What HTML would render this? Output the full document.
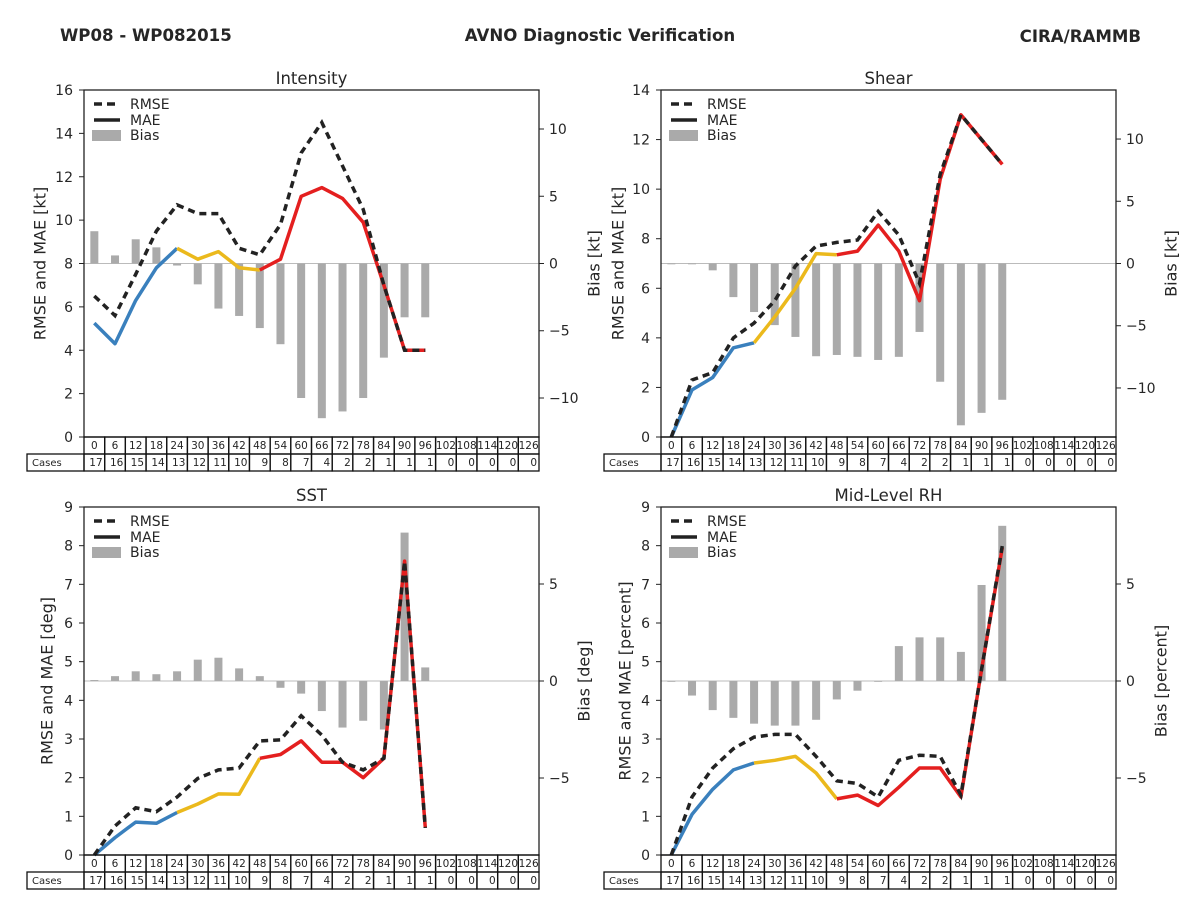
<!DOCTYPE html>
<html><head><meta charset="utf-8"><style>
html,body{margin:0;padding:0;background:#fff;}
svg{display:block;font-family:"DejaVu Sans","Liberation Sans",sans-serif;}
</style></head><body>
<svg id="fig" width="1200" height="900" viewBox="0 0 1200 900">
<text x="60" y="41" font-size="16.6" font-weight="bold" fill="#262626">WP08 - WP082015</text>
<text x="600" y="41" font-size="16.6" font-weight="bold" fill="#262626" text-anchor="middle">AVNO Diagnostic Verification</text>
<text x="1141" y="42" font-size="16.6" font-weight="bold" fill="#262626" text-anchor="end">CIRA/RAMMB</text>
</svg>
<script>
const hours = [0,6,12,18,24,30,36,42,48,54,60,66,72,78,84,90,96,102,108,114,120,126];
const cases = [17,16,15,14,13,12,11,10,9,8,7,4,2,2,1,1,1,0,0,0,0,0];

const intensityRmse = [6.5,5.6,7.5,9.5,10.7,10.3,10.3,8.7,8.4,9.8,13.1,14.5,12.5,10.5,7.0,4.0,4.0];
const intensityMae  = [5.25,4.3,6.3,7.8,8.7,8.2,8.55,7.8,7.7,8.2,11.1,11.5,11.0,9.9,7.0,4.0,4.0];
const intensityBias = [2.4,0.6,1.8,1.2,-0.15,-1.55,-3.35,-3.9,-4.8,-6.0,-10.0,-11.5,-11.0,-10.0,-7.0,-4.0,-4.0];

const shearRmse = [0,2.3,2.6,4.0,4.6,5.5,6.9,7.7,7.85,7.95,9.1,8.15,6.2,10.6,13.0,12.0,11.0];
const shearMae  = [0,1.9,2.4,3.6,3.8,4.85,6.0,7.4,7.35,7.5,8.55,7.5,5.5,10.4,13.0,12.0,11.0];
const shearBias = [-0.05,-0.05,-0.55,-2.7,-3.9,-4.95,-5.9,-7.45,-7.35,-7.5,-7.75,-7.5,-5.5,-9.5,-13.0,-12.0,-10.95];

const sstRmse = [0,0.75,1.22,1.12,1.5,1.98,2.2,2.25,2.95,2.98,3.6,3.1,2.4,2.2,2.5,7.6,0.7];
const sstMae  = [0,0.45,0.85,0.82,1.1,1.32,1.58,1.57,2.5,2.6,2.95,2.4,2.4,2.0,2.5,7.6,0.7];
const sstBias = [0.05,0.25,0.5,0.35,0.5,1.1,1.2,0.65,0.25,-0.35,-0.65,-1.55,-2.4,-2.05,-2.5,7.65,0.7];

const rhRmse = [0,1.5,2.25,2.75,3.05,3.12,3.12,2.55,1.92,1.85,1.5,2.45,2.58,2.55,1.55,4.8,8.0];
const rhMae  = [0,1.05,1.7,2.2,2.38,2.45,2.55,2.12,1.45,1.55,1.28,1.75,2.25,2.25,1.5,4.8,7.95];
const rhBias = [0,-0.75,-1.5,-1.9,-2.2,-2.3,-2.3,-2.0,-0.95,-0.5,0,1.8,2.25,2.25,1.5,4.95,8.0];

const leftTicks16 = [0,2,4,6,8,10,12,14,16];
const leftTicks14 = [0,2,4,6,8,10,12,14];
const leftTicks9 = [0,1,2,3,4,5,6,7,8,9];
const biasTicksWide = [-10,-5,0,5,10];
const biasTicksNarrow = [-5,0,5];

const NS = "http://www.w3.org/2000/svg";
const svg = document.getElementById('fig');
function mk(tag, attrs, parent){
  const e = document.createElementNS(NS, tag);
  for (const k in attrs) e.setAttribute(k, attrs[k]);
  (parent||svg).appendChild(e);
  return e;
}
function fmt(v){ return v<0 ? '\u2212'+Math.abs(v) : String(v); }

const panels = [
  {key:'intensity', title:'Intensity', x0:84, x1:539, y0:90, y1:437, ymax:16, lt:leftTicks16, bmax:12.9, bt:biasTicksWide, rmse:intensityRmse, mae:intensityMae, bias:intensityBias, ylab:'RMSE and MAE [kt]', blab:'Bias [kt]', lx:40, rx:594},
  {key:'shear', title:'Shear', x0:661, x1:1116, y0:90, y1:437, ymax:14, lt:leftTicks14, bmax:13.94, bt:biasTicksWide, rmse:shearRmse, mae:shearMae, bias:shearBias, ylab:'RMSE and MAE [kt]', blab:'Bias [kt]', lx:618, rx:1171},
  {key:'sst', title:'SST', x0:84, x1:539, y0:507, y1:855, ymax:9, lt:leftTicks9, bmax:8.97, bt:biasTicksNarrow, rmse:sstRmse, mae:sstMae, bias:sstBias, ylab:'RMSE and MAE [deg]', blab:'Bias [deg]', lx:47, rx:584},
  {key:'rh', title:'Mid-Level RH', x0:661, x1:1116, y0:507, y1:855, ymax:9, lt:leftTicks9, bmax:8.97, bt:biasTicksNarrow, rmse:rhRmse, mae:rhMae, bias:rhBias, ylab:'RMSE and MAE [percent]', blab:'Bias [percent]', lx:625, rx:1161}
];

panels.forEach(p => {
  const g = mk('g', {});
  
  
  const cw = (p.x1 - p.x0) / hours.length;
  const xs = i => p.x0 + cw * (i + 0.5);
  const ys = v => p.y1 - v / p.ymax * (p.y1 - p.y0);
  const ymid = (p.y0 + p.y1) / 2;
  const yb = v => ymid - v / p.bmax * (p.y1 - p.y0) / 2;

  const t = mk('text', {x:(p.x0+p.x1)/2, y:p.y0-6, 'font-size':16.5, 'text-anchor':'middle', fill:'#262626'}, g);
  t.textContent = p.title;
  
  

  const zl = mk('line', {x1:p.x0, x2:p.x1, y1:yb(0), y2:yb(0), stroke:'#bbbbbb', 'stroke-width':1}, g);
  
  

  p.bias.forEach((v, i) => {
    const y = Math.min(yb(v), yb(0));
    const h = Math.max(Math.abs(yb(v) - yb(0)), 0.8);
    const b = mk('rect', {x:xs(i)-4, y:y, width:8, height:h, fill:'#aaaaaa'}, g);
    
    
  });

  const segs = [[0,4,'#3a80bd'],[4,8,'#ebb91c'],[8,p.mae.length-1,'#e41f1f']];
  segs.forEach(s => {
    let d = '';
    for (let i = s[0]; i <= s[1]; i++) d += (i===s[0]?'M':'L') + xs(i).toFixed(1) + ',' + ys(p.mae[i]).toFixed(1);
    const path = mk('path', {d:d, fill:'none', stroke:s[2], 'stroke-width':3.5, 'stroke-linejoin':'round'}, g);
    
    
  });

  let d2 = '';
  p.rmse.forEach((v, i) => { d2 += (i?'L':'M') + xs(i).toFixed(1) + ',' + ys(v).toFixed(1); });
  const rl = mk('path', {d:d2, fill:'none', stroke:'#222', 'stroke-width':3.5, 'stroke-dasharray':'7,5'}, g);
  
  

  const fr = mk('rect', {x:p.x0, y:p.y0, width:p.x1-p.x0, height:p.y1-p.y0, fill:'none', stroke:'#222', 'stroke-width':1.3}, g);
  
  

  p.lt.forEach(v => {
    mk('line', {x1:p.x0-5, x2:p.x0, y1:ys(v), y2:ys(v), stroke:'#222', 'stroke-width':1}, g);
    const tl = mk('text', {x:p.x0-11, y:ys(v)+5, 'font-size':14, 'text-anchor':'end', fill:'#262626'}, g);
    tl.textContent = v;
    
    
  });
  p.bt.forEach(v => {
    mk('line', {x1:p.x1, x2:p.x1+5, y1:yb(v), y2:yb(v), stroke:'#222', 'stroke-width':1}, g);
    const tl = mk('text', {x:p.x1+10, y:yb(v)+5, 'font-size':14, fill:'#262626'}, g);
    tl.textContent = fmt(v);
    
    
  });

  const lx = p.lx, ly = ymid;
  const yl = mk('text', {x:lx, y:ly, 'font-size':16, 'text-anchor':'middle', 'dominant-baseline':'central', fill:'#262626', transform:'rotate(-90 '+lx+' '+ly+')'}, g);
  yl.textContent = p.ylab;
  
  
  const rx = p.rx;
  const bl = mk('text', {x:rx, y:ly, 'font-size':16, 'text-anchor':'middle', 'dominant-baseline':'central', fill:'#262626', transform:'rotate(-90 '+rx+' '+ly+')'}, g);
  bl.textContent = p.blab;
  
  

  const lgx = p.x0 + 10, lgy = p.y0 + 14;
  mk('line', {x1:lgx, x2:lgx+26, y1:lgy, y2:lgy, stroke:'#222', 'stroke-width':3.5, 'stroke-dasharray':'8,5'}, g);
  const l1 = mk('text', {x:lgx+36, y:lgy+5, 'font-size':14, fill:'#262626'}, g);
  l1.textContent = 'RMSE';
  
  
  mk('line', {x1:lgx, x2:lgx+26, y1:lgy+16, y2:lgy+16, stroke:'#222', 'stroke-width':3.5}, g);
  const l2 = mk('text', {x:lgx+36, y:lgy+21, 'font-size':14, fill:'#262626'}, g);
  l2.textContent = 'MAE';
  
  
  mk('rect', {x:lgx-2, y:lgy+26, width:29, height:11, fill:'#aaaaaa'}, g);
  const l3 = mk('text', {x:lgx+36, y:lgy+36, 'font-size':14, fill:'#262626'}, g);
  l3.textContent = 'Bias';
  
  

  const r1 = p.y1, r2 = p.y1 + 17;
  const tb = mk('g', {}, g);
  
  
  mk('rect', {x:p.x0-57, y:r2, width:57, height:17, fill:'none', stroke:'#111', 'stroke-width':1.3}, tb);
  const cl = mk('text', {x:p.x0-52, y:r2+12, 'font-size':10, fill:'#262626'}, tb);
  cl.textContent = 'Cases';
  
  
  hours.forEach((h, i) => {
    const cx = p.x0 + cw * i;
    mk('rect', {x:cx, y:r1, width:cw, height:17, fill:'none', stroke:'#111', 'stroke-width':1.3}, tb);
    mk('rect', {x:cx, y:r2, width:cw, height:17, fill:'none', stroke:'#111', 'stroke-width':1.3}, tb);
    const ht = mk('text', {x:cx+cw/2, y:r1+12, 'font-size':10.5, 'text-anchor':'middle', fill:'#262626'}, tb);
    ht.textContent = h;
    
    
    const ct = mk('text', {x:cx+cw-2, y:r2+12, 'font-size':10.5, 'text-anchor':'end', fill:'#262626'}, tb);
    ct.textContent = cases[i];
    
    
  });
});
</script>
</body></html>
